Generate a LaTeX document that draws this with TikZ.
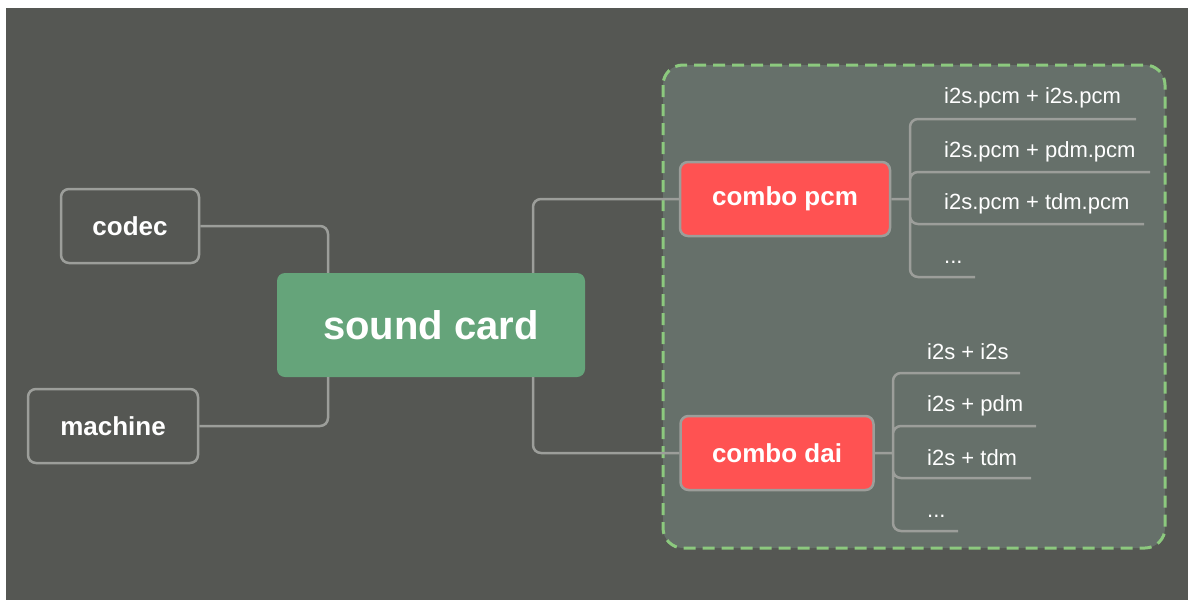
\documentclass[tikz,border=0pt]{standalone}
\usepackage{fontspec}
\setmainfont{Liberation Sans}
\definecolor{bgdark}{HTML}{555753}
\definecolor{grpfill}{HTML}{66706A}
\definecolor{grpline}{HTML}{8CC97E}
\definecolor{linegray}{HTML}{9C9E9A}
\definecolor{cardgreen}{HTML}{65A47A}
\definecolor{combored}{HTML}{FF5252}
\tikzset{
  side/.style={draw=linegray,line width=2.5pt,rounded corners=8pt,text=white,
    font=\fontsize{26}{30}\selectfont\bfseries,minimum height=74pt},
  combo/.style={side,fill=combored},
  leaf/.style={anchor=west,inner sep=0pt,text=white,font=\fontsize{22}{26}\selectfont},
  link/.style={draw=linegray,line width=2.5pt,rounded corners=8pt}
}
\begin{document}
\begin{tikzpicture}
  [x=1pt,y=-1pt]
  \useasboundingbox (0,0) rectangle (1188,600);
  \fill[bgdark] (6,8) rectangle (1188,600);
  % group of combos
  \draw[grpline,fill=grpfill,line width=3pt,dash pattern=on 12pt off 7pt,rounded corners=20pt]
    (663,65) rectangle (1165,548);

  \node[fill=cardgreen,rounded corners=8pt,minimum width=308pt,minimum height=104pt,
    text=white,font=\fontsize{40}{46}\selectfont\bfseries] (snd) at (431,325) {sound card};
  \node[side,minimum width=138pt] (codec) at (130,226) {codec};
  \node[side,minimum width=170pt] (machine) at (113,426) {machine};
  \node[combo,minimum width=210pt] (pcm) at (785,199) {combo pcm};
  \node[combo,minimum width=193pt] (dai) at (777,453) {combo dai};

  \path[link]
    (codec.east) -| ([xshift=-103pt]snd.north)
    (machine.east) -| ([xshift=-103pt]snd.south)
    ([xshift=102pt]snd.north) |- (pcm.west)
    ([xshift=102pt]snd.south) |- (dai.west);

  % combo pcm leaves
  \coordinate (pj) at (910,199);
  \coordinate (p1) at (1136,119);
  \coordinate (p2) at (1150,172);
  \coordinate (p3) at (1144,224);
  \coordinate (p4) at (975,277);
  \node[leaf] (pl1) at (944,98) {i2s.pcm + i2s.pcm};
  \node[leaf] (pl2) at (944,152) {i2s.pcm + pdm.pcm};
  \node[leaf] (pl3) at (944,204) {i2s.pcm + tdm.pcm};
  \node[leaf] (pl4) at (944,262) {...};
  \path[link] (pcm.east) -- (pj)
    (pj) |- (p1) (pj) |- (p2) (pj) |- (p3) (pj) |- (p4);

  % combo dai leaves
  \coordinate (dj) at (893,453);
  \coordinate (d1) at (1020,373);
  \coordinate (d2) at (1036,426);
  \coordinate (d3) at (1031,478);
  \coordinate (d4) at (958,531);
  \node[leaf] (dl1) at (927,352) {i2s + i2s};
  \node[leaf] (dl2) at (927,406) {i2s + pdm};
  \node[leaf] (dl3) at (927,458) {i2s + tdm};
  \node[leaf] (dl4) at (927,516) {...};
  \path[link] (dai.east) -- (dj)
    (dj) |- (d1) (dj) |- (d2) (dj) |- (d3) (dj) |- (d4);

\end{tikzpicture}
\end{document}
